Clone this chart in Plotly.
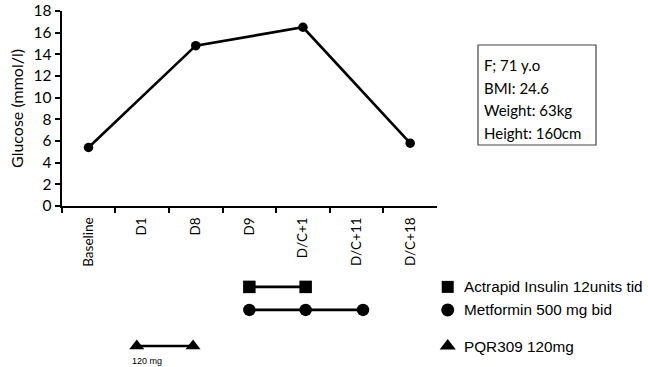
import plotly.graph_objects as go

# ---- data ----
categories = ["Baseline", "D1", "D8", "D9", "D/C+1", "D/C+11", "D/C+18"]
glucose = [5.4, None, 14.8, None, 16.5, None, 5.8]
y_ticks = [0, 2, 4, 6, 8, 10, 12, 14, 16, 18]

# treatment timelines (positions on the day scale, row level)
actrapid_x = [3.0, 4.05]
metformin_x = [3.0, 4.05, 5.12]
pqr_x = [0.9, 1.95]
rows = {"Actrapid": 3.0, "Metformin": 2.0, "PQR309": 0.43}
legend_labels = ["Actrapid Insulin 12units tid", "Metformin 500 mg bid", "PQR309 120mg"]
legend_symbols = ["square", "circle", "triangle-up"]
dose_note = "120 mg"
info_lines = ["F; 71 y.o", "BMI: 24.6", "Weight: 63kg", "Height: 160cm"]

W, H = 648, 367
px = lambda x: x / W
py = lambda y: 1 - y / H
CAL = "Lato, Carlito, Calibri"
ARI = "Liberation Sans, Arial"

fig = go.Figure()

fig.add_trace(go.Scatter(
    x=categories, y=glucose, mode="lines+markers", connectgaps=True,
    line=dict(color="black", width=2.6),
    marker=dict(color="black", size=9.5),
    xaxis="x", yaxis="y", showlegend=False, hoverinfo="skip"))

series = [
    (actrapid_x, rows["Actrapid"], "square", 12.5),
    (metformin_x, rows["Metformin"], "circle", 12.5),
    (pqr_x, rows["PQR309"], "triangle-up", 13),
]
for xs, r, sym, sz in series:
    fig.add_trace(go.Scatter(
        x=xs, y=[r] * len(xs), mode="lines+markers",
        line=dict(color="black", width=2.6),
        marker=dict(color="black", size=sz, symbol=sym),
        xaxis="x2", yaxis="y2", showlegend=False, hoverinfo="skip",
        cliponaxis=False))

# legend markers
leg_rows = [rows["Actrapid"], rows["Metformin"], rows["PQR309"]]
leg_sizes = [12, 13, 14]
for sym, r, sz in zip(legend_symbols, leg_rows, leg_sizes):
    fig.add_trace(go.Scatter(
        x=[6.7], y=[r], mode="markers",
        marker=dict(color="black", size=sz, symbol=sym),
        xaxis="x2", yaxis="y2", showlegend=False, hoverinfo="skip",
        cliponaxis=False))

annotations = []
for lab, r in zip(legend_labels, leg_rows):
    annotations.append(dict(
        x=6.97, y=r, xref="x2", yref="y2", text=lab, showarrow=False,
        xanchor="left", yanchor="middle",
        font=dict(family=ARI, size=15.3, color="black")))
annotations.append(dict(
    x=1.1, y=-0.23, xref="x2", yref="y2", text=dose_note, showarrow=False,
    xanchor="center", yanchor="middle",
    font=dict(family=ARI, size=9, color="black")))

line_y = [65, 87.5, 110, 133]
for t, yy in zip(info_lines, line_y):
    annotations.append(dict(
        x=px(482), y=py(yy), xref="paper", yref="paper", text=t, showarrow=False,
        xanchor="left", yanchor="middle",
        font=dict(family=CAL, size=15, color="black")))

x_left, x_right = 61.7, 437.0
cat_w = (x_right - x_left) / 7

fig.update_layout(
    width=W, height=H,
    margin=dict(l=0, r=0, t=0, b=0),
    paper_bgcolor="white", plot_bgcolor="white",
    font=dict(family=CAL, color="black"),
    xaxis=dict(
        domain=[px(x_left), px(x_right)], type="category",
        categoryorder="array", categoryarray=categories,
        range=[-0.5, 6.5], tickson="boundaries", ticks="outside",
        ticklen=5, tickwidth=1.5, tickcolor="black",
        showline=True, linecolor="black", linewidth=2,
        showgrid=False, zeroline=False, tickangle=-90,
        tickfont=dict(size=13.5, family=CAL), ticklabelstandoff=4,
        anchor="y", automargin=False, fixedrange=True),
    yaxis=dict(
        domain=[py(206), py(11)], range=[0, 18], tickvals=y_ticks,
        ticks="outside", ticklen=5, tickwidth=1.5, tickcolor="black",
        showline=True, linecolor="black", linewidth=2,
        showgrid=False, zeroline=False,
        tickfont=dict(size=15.5, family=CAL),
        title=dict(text="Glucose (mmol/l)", font=dict(size=16, family=CAL), standoff=6),
        anchor="x", automargin=False, fixedrange=True),
    xaxis2=dict(
        domain=[px(x_left), 1.0],
        range=[-0.5, -0.5 + (W - x_left) / cat_w],
        visible=False, anchor="y2", fixedrange=True),
    yaxis2=dict(
        domain=[0, py(270)],
        range=[0.43 - (H - 346) / 23, 0.43 + (346 - 270) / 23],
        visible=False, anchor="x2", fixedrange=True),
    annotations=annotations,
    shapes=[dict(type="rect", xref="paper", yref="paper",
                 x0=px(478), x1=px(596), y0=py(145), y1=py(45),
                 line=dict(color="#444", width=1.2))],
)

fig.write_html("out.html")
